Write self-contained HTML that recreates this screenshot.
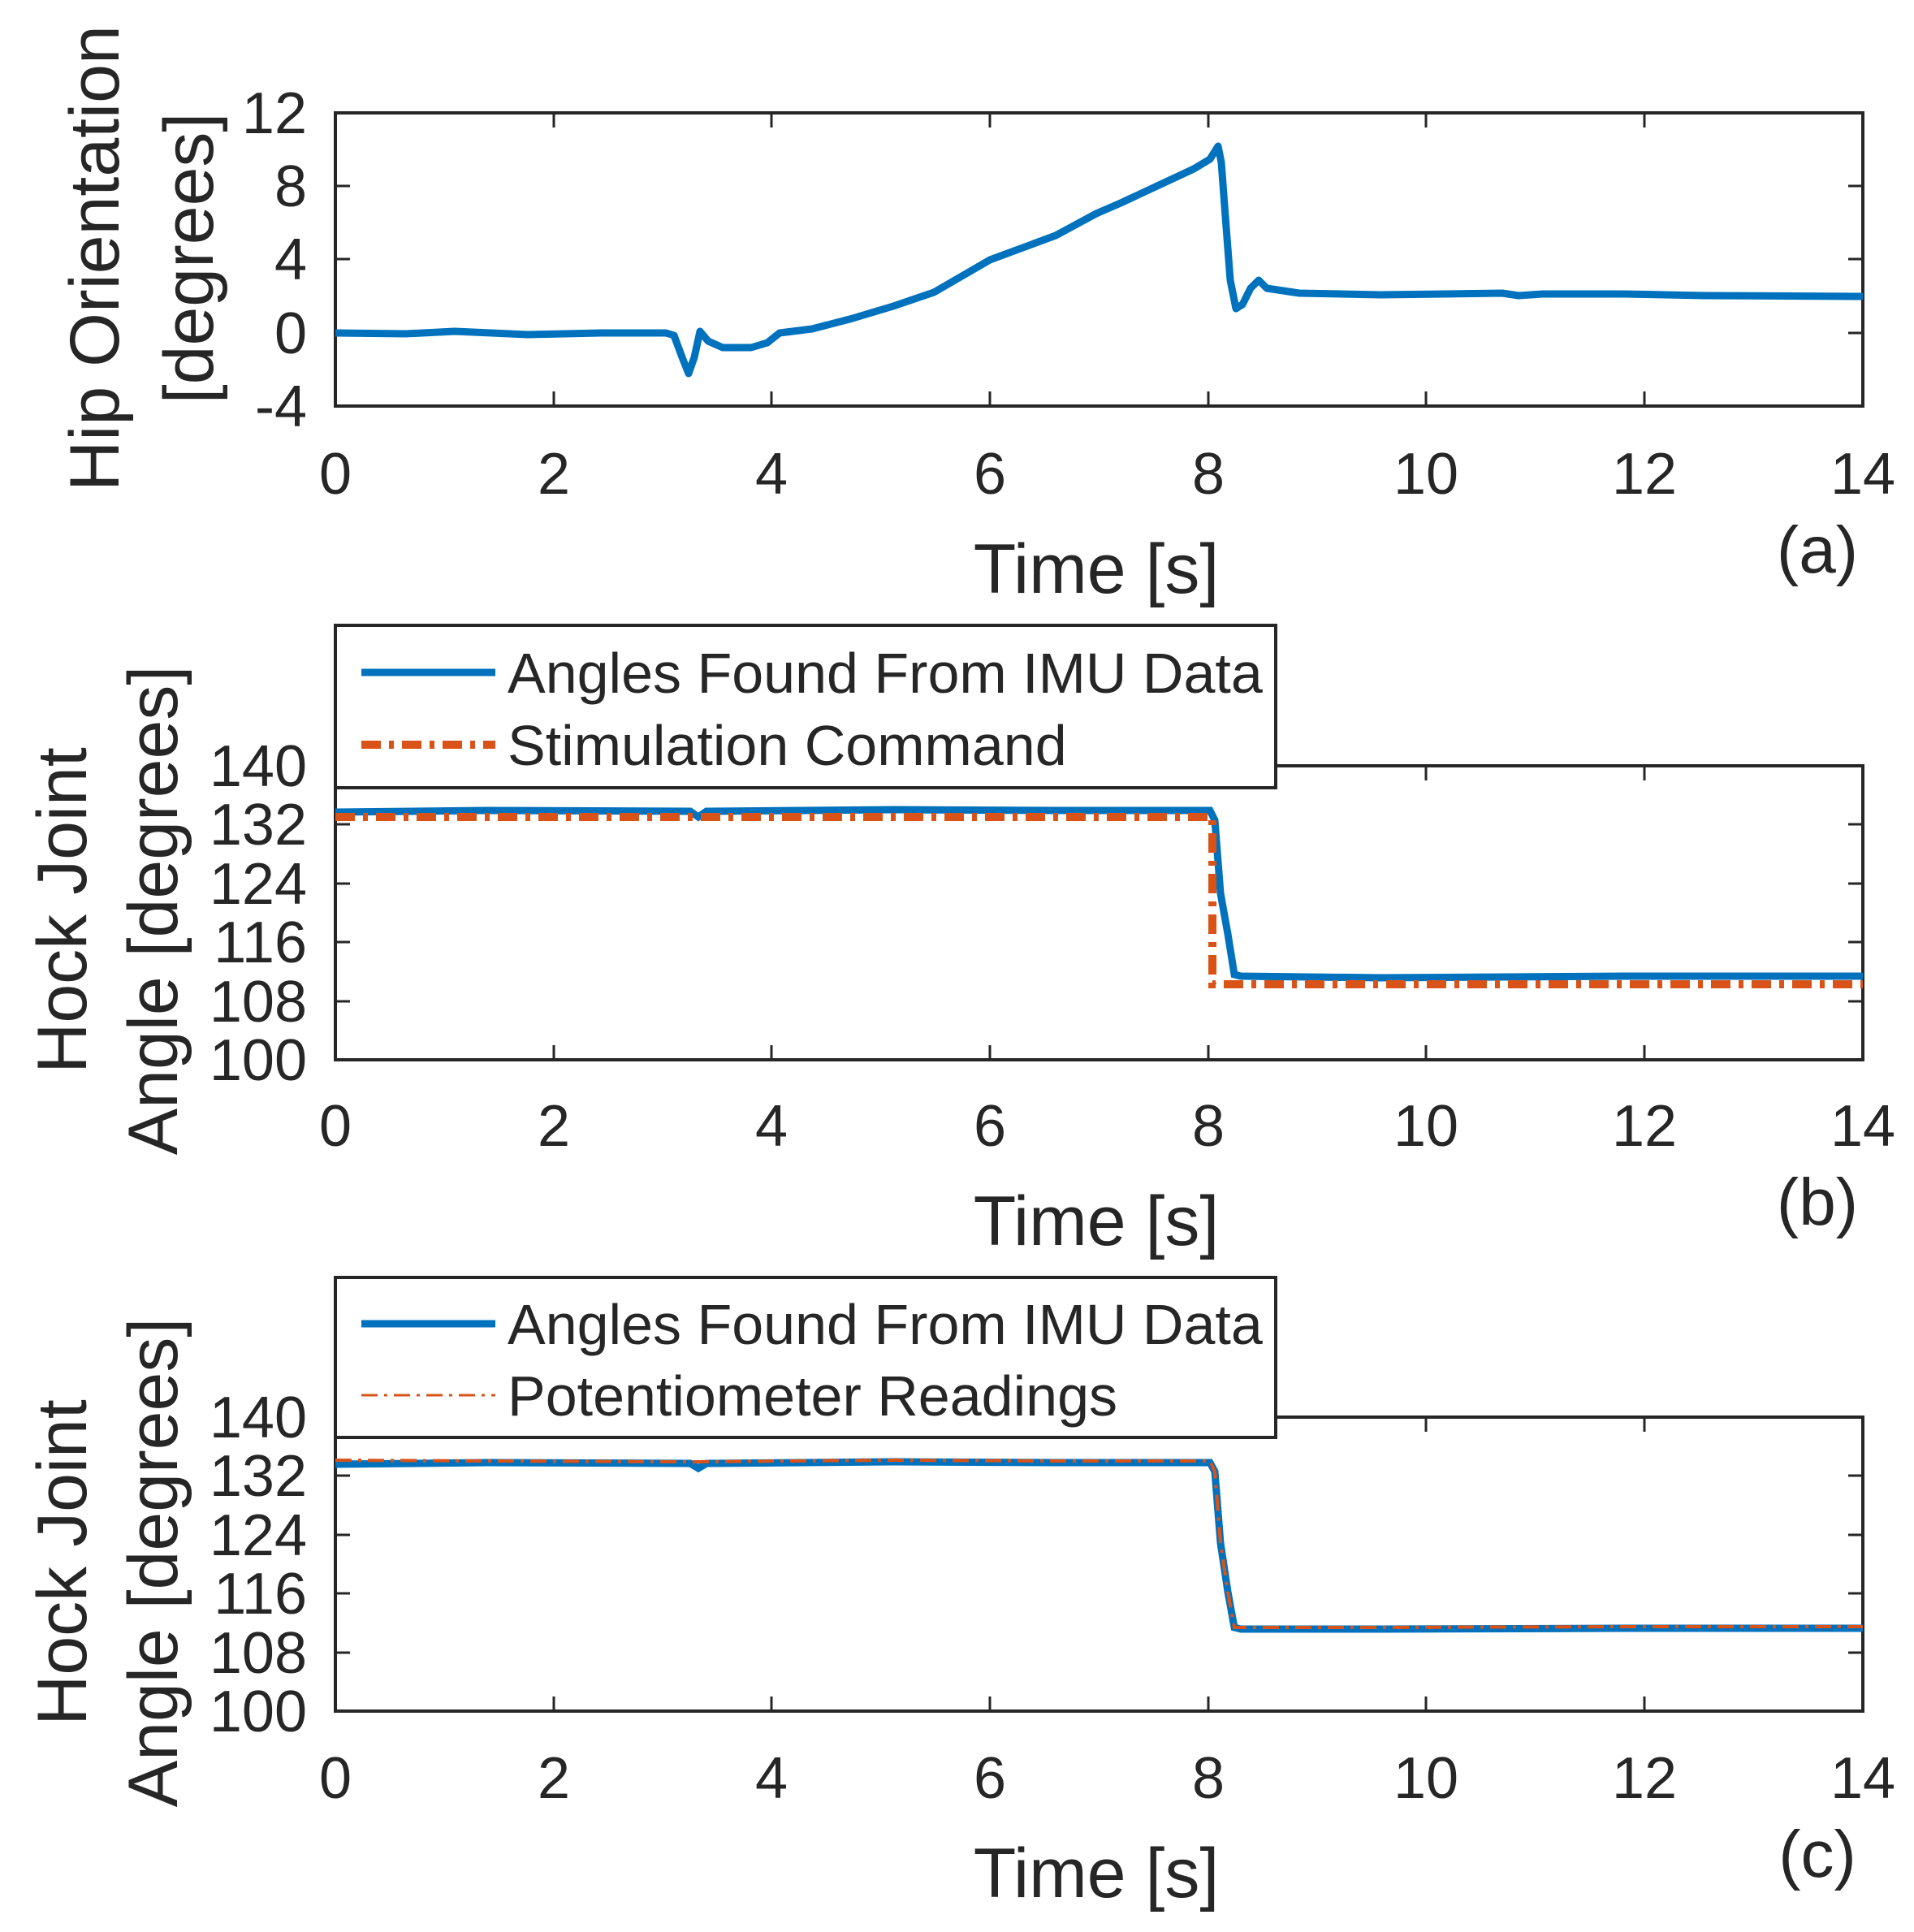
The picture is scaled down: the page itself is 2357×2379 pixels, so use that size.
<!DOCTYPE html>
<html><head><meta charset="utf-8"><style>
html,body{margin:0;padding:0;background:#fff;}
svg{display:block;font-family:"Liberation Sans",Arial,sans-serif;fill:#262626;}
</style></head><body>
<svg width="2357" height="2379" viewBox="0 0 2357 2379" xmlns="http://www.w3.org/2000/svg">
<g id="a">
<rect x="413" y="139" width="1881" height="361" fill="none" stroke="#262626" stroke-width="4"/>
<g stroke="#262626" stroke-width="3">
<line x1="682" y1="500" x2="682" y2="482"/><line x1="682" y1="139" x2="682" y2="157"/>
<line x1="950" y1="500" x2="950" y2="482"/><line x1="950" y1="139" x2="950" y2="157"/>
<line x1="1219" y1="500" x2="1219" y2="482"/><line x1="1219" y1="139" x2="1219" y2="157"/>
<line x1="1488" y1="500" x2="1488" y2="482"/><line x1="1488" y1="139" x2="1488" y2="157"/>
<line x1="1756" y1="500" x2="1756" y2="482"/><line x1="1756" y1="139" x2="1756" y2="157"/>
<line x1="2025" y1="500" x2="2025" y2="482"/><line x1="2025" y1="139" x2="2025" y2="157"/>
<line x1="413" y1="229" x2="431" y2="229"/><line x1="2294" y1="229" x2="2276" y2="229"/>
<line x1="413" y1="319" x2="431" y2="319"/><line x1="2294" y1="319" x2="2276" y2="319"/>
<line x1="413" y1="410" x2="431" y2="410"/><line x1="2294" y1="410" x2="2276" y2="410"/>
</g>
<polyline fill="none" stroke="#0072BD" stroke-width="9" stroke-linejoin="round" points="413,410 500,411 560,408 650,412 740,410 820,410 830,413 840,440 848,460 855,440 862,408 872,420 890,428 925,428 945,422 960,410 1000,405 1050,392 1100,377 1150,360 1219,320 1300,290 1350,263 1380,250 1440,222 1470,208 1490,196 1500,180 1504,200 1510,280 1515,345 1522,380 1530,375 1540,355 1550,345 1560,355 1600,361 1700,363 1850,361 1870,364 1900,362 2000,362 2100,364 2294,365"/>
<g font-size="72" text-anchor="end">
<text x="378" y="164">12</text><text x="378" y="254">8</text><text x="378" y="344">4</text><text x="378" y="435">0</text><text x="378" y="525">-4</text>
</g>
<g font-size="72" text-anchor="middle">
<text x="413" y="608">0</text><text x="682" y="608">2</text><text x="950" y="608">4</text><text x="1219" y="608">6</text><text x="1488" y="608">8</text><text x="1756" y="608">10</text><text x="2025" y="608">12</text><text x="2294" y="608">14</text>
</g>
<text x="1350" y="730" font-size="86" text-anchor="middle">Time [s]</text>
<text x="2238" y="705" font-size="82" text-anchor="middle">(a)</text>
<text transform="translate(146,318) rotate(-90)" font-size="86" text-anchor="middle">Hip Orientation</text>
<text transform="translate(262,318) rotate(-90)" font-size="86" text-anchor="middle">[degrees]</text>
</g>

<g id="b">
<rect x="413" y="943" width="1881" height="362" fill="none" stroke="#262626" stroke-width="4"/>
<g stroke="#262626" stroke-width="3">
<line x1="682" y1="1305" x2="682" y2="1287"/><line x1="950" y1="1305" x2="950" y2="1287"/><line x1="1219" y1="1305" x2="1219" y2="1287"/><line x1="1488" y1="1305" x2="1488" y2="1287"/><line x1="1756" y1="1305" x2="1756" y2="1287"/><line x1="2025" y1="1305" x2="2025" y2="1287"/>
<line x1="1756" y1="943" x2="1756" y2="961"/><line x1="2025" y1="943" x2="2025" y2="961"/>
<line x1="413" y1="1015" x2="431" y2="1015"/><line x1="2294" y1="1015" x2="2276" y2="1015"/>
<line x1="413" y1="1088" x2="431" y2="1088"/><line x1="2294" y1="1088" x2="2276" y2="1088"/>
<line x1="413" y1="1160" x2="431" y2="1160"/><line x1="2294" y1="1160" x2="2276" y2="1160"/>
<line x1="413" y1="1233" x2="431" y2="1233"/><line x1="2294" y1="1233" x2="2276" y2="1233"/>
</g>
<polyline fill="none" stroke="#0072BD" stroke-width="9" points="413,1000 600,998 850,999 860,1006 870,999 1100,997 1300,998 1490,998 1496,1010 1503,1100 1512,1150 1520,1200 1528,1202 1700,1204 2000,1202 2294,1202"/>
<polyline fill="none" stroke="#D95319" stroke-width="10" stroke-dasharray="24,10,6,10" points="413,1006 1493,1006 1493,1212 2294,1212"/>
<rect x="413" y="770" width="1158" height="200" fill="#fff" stroke="#262626" stroke-width="4"/>
<line x1="445" y1="828" x2="610" y2="828" stroke="#0072BD" stroke-width="9"/>
<line x1="445" y1="917" x2="610" y2="917" stroke="#D95319" stroke-width="10" stroke-dasharray="24,10,6,10"/>
<text x="625" y="853" font-size="70">Angles Found From IMU Data</text>
<text x="625" y="942" font-size="70">Stimulation Command</text>
<g font-size="72" text-anchor="end">
<text x="378" y="968">140</text><text x="378" y="1040">132</text><text x="378" y="1113">124</text><text x="378" y="1185">116</text><text x="378" y="1258">108</text><text x="378" y="1330">100</text>
</g>
<g font-size="72" text-anchor="middle">
<text x="413" y="1411">0</text><text x="682" y="1411">2</text><text x="950" y="1411">4</text><text x="1219" y="1411">6</text><text x="1488" y="1411">8</text><text x="1756" y="1411">10</text><text x="2025" y="1411">12</text><text x="2294" y="1411">14</text>
</g>
<text x="1350" y="1533" font-size="86" text-anchor="middle">Time [s]</text>
<text x="2238" y="1508" font-size="82" text-anchor="middle">(b)</text>
<text transform="translate(106,1121) rotate(-90)" font-size="86" text-anchor="middle">Hock Joint</text>
<text transform="translate(218,1121) rotate(-90)" font-size="86" text-anchor="middle">Angle [degrees]</text>
</g>

<g id="c">
<rect x="413" y="1745" width="1881" height="362" fill="none" stroke="#262626" stroke-width="4"/>
<g stroke="#262626" stroke-width="3">
<line x1="682" y1="2107" x2="682" y2="2089"/><line x1="950" y1="2107" x2="950" y2="2089"/><line x1="1219" y1="2107" x2="1219" y2="2089"/><line x1="1488" y1="2107" x2="1488" y2="2089"/><line x1="1756" y1="2107" x2="1756" y2="2089"/><line x1="2025" y1="2107" x2="2025" y2="2089"/>
<line x1="1756" y1="1745" x2="1756" y2="1763"/><line x1="2025" y1="1745" x2="2025" y2="1763"/>
<line x1="413" y1="1817" x2="431" y2="1817"/><line x1="2294" y1="1817" x2="2276" y2="1817"/>
<line x1="413" y1="1890" x2="431" y2="1890"/><line x1="2294" y1="1890" x2="2276" y2="1890"/>
<line x1="413" y1="1962" x2="431" y2="1962"/><line x1="2294" y1="1962" x2="2276" y2="1962"/>
<line x1="413" y1="2035" x2="431" y2="2035"/><line x1="2294" y1="2035" x2="2276" y2="2035"/>
</g>
<polyline fill="none" stroke="#0072BD" stroke-width="9" points="413,1803 600,1801 850,1802 860,1808 870,1802 1100,1800 1300,1801 1490,1801 1496,1812 1503,1900 1512,1960 1520,2004 1528,2006 1700,2006 2000,2005 2294,2005"/>
<polyline fill="none" stroke="#D95319" stroke-width="4" stroke-dasharray="20,8,4,8" points="413,1798 600,1799 850,1800 1100,1798 1300,1799 1490,1799 1496,1812 1503,1900 1512,1960 1520,2004 1528,2004 1700,2004 2000,2003 2294,2003"/>
<rect x="413" y="1573" width="1158" height="197" fill="#fff" stroke="#262626" stroke-width="4"/>
<line x1="445" y1="1630" x2="610" y2="1630" stroke="#0072BD" stroke-width="9"/>
<line x1="445" y1="1718" x2="610" y2="1718" stroke="#D95319" stroke-width="3" stroke-dasharray="20,8,4,8"/>
<text x="625" y="1655" font-size="70">Angles Found From IMU Data</text>
<text x="625" y="1743" font-size="70">Potentiometer Readings</text>
<g font-size="72" text-anchor="end">
<text x="378" y="1770">140</text><text x="378" y="1842">132</text><text x="378" y="1915">124</text><text x="378" y="1987">116</text><text x="378" y="2060">108</text><text x="378" y="2132">100</text>
</g>
<g font-size="72" text-anchor="middle">
<text x="413" y="2214">0</text><text x="682" y="2214">2</text><text x="950" y="2214">4</text><text x="1219" y="2214">6</text><text x="1488" y="2214">8</text><text x="1756" y="2214">10</text><text x="2025" y="2214">12</text><text x="2294" y="2214">14</text>
</g>
<text x="1350" y="2336" font-size="86" text-anchor="middle">Time [s]</text>
<text x="2238" y="2311" font-size="82" text-anchor="middle">(c)</text>
<text transform="translate(106,1924) rotate(-90)" font-size="86" text-anchor="middle">Hock Joint</text>
<text transform="translate(218,1924) rotate(-90)" font-size="86" text-anchor="middle">Angle [degrees]</text>
</g>
</svg>
</body></html>
